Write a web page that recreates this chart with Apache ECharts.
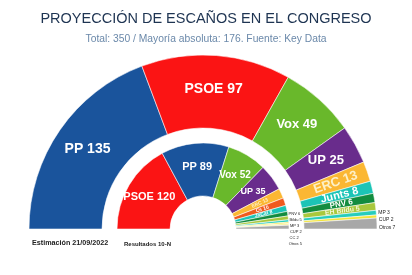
<!DOCTYPE html>
<html>
<head>
<meta charset="utf-8">
<script src="https://cdn.jsdelivr.net/npm/echarts@6/dist/echarts.min.js"></script>
<style>
  html, body { margin: 0; padding: 0; background: #fff; }
  #main { width: 412px; height: 275px; }
</style>
</head>
<body>
<div id="main"></div>
<script>
  // Estimación 21/09/2022 (anillo exterior)
  const outerNames = ['PP', 'PSOE', 'Vox', 'UP', 'ERC', 'Junts', 'PNV', 'EH Bildu', 'MP', 'CUP', 'Otros'];
  const outerSeats = [135, 97, 49, 25, 13, 8, 6, 5, 3, 2, 7];
  // Resultados 10-N (anillo interior)
  const innerNames = ['PSOE', 'PP', 'Vox', 'UP', 'ERC', 'Cs', 'JxCat', 'PNV', 'Bildu', 'MP', 'CUP', 'CC', 'Otros'];
  const innerSeats = [120, 89, 52, 35, 13, 10, 8, 6, 5, 3, 2, 2, 5];

  const colors = {
    'PP': '#1a549c', 'PSOE': '#fb1414', 'Vox': '#69b82b', 'UP': '#692c8c',
    'ERC': '#fbb733', 'Junts': '#1cc4b6', 'JxCat': '#1cc4b6', 'Cs': '#f05a1e',
    'PNV': '#138c3f', 'EH Bildu': '#a9c83d', 'Bildu': '#a9c83d', 'MP': '#27cdbd',
    'CUP': '#f3e43c', 'CC': '#f7ee8a', 'Otros': '#a8a8a8'
  };

  // estilo de etiqueta por partido (tamaño, rotación, posición)
  const outside = { position: 'outside', color: '#222', fontWeight: 'normal' };
  const outerLabel = {
    'PP': { fontSize: 14 }, 'PSOE': { fontSize: 14 }, 'Vox': { fontSize: 13 }, 'UP': { fontSize: 13 },
    'ERC': { fontSize: 13, lineHeight: 12, rotate: 'radial', color: '#fdf0c8' },
    'Junts': { fontSize: 11, lineHeight: 9, rotate: 'radial' },
    'PNV': { fontSize: 8, lineHeight: 7, rotate: 'radial' },
    'EH Bildu': { fontSize: 7, lineHeight: 6, rotate: 'radial', color: '#f4f7d8' },
    'MP': Object.assign({ fontSize: 5, lineHeight: 5.5 }, outside),
    'CUP': Object.assign({ fontSize: 5, lineHeight: 5.5 }, outside),
    'Otros': Object.assign({ fontSize: 5, lineHeight: 5.5 }, outside)
  };
  const innerLabel = {
    'PSOE': { fontSize: 11 }, 'PP': { fontSize: 11 }, 'Vox': { fontSize: 10 }, 'UP': { fontSize: 9 },
    'ERC': { fontSize: 5, lineHeight: 5, rotate: 'radial', color: '#fdf0c8' },
    'Cs': { fontSize: 5, lineHeight: 5, rotate: 'radial' },
    'JxCat': { fontSize: 5, lineHeight: 4, rotate: 'radial' },
    'PNV': Object.assign({ fontSize: 4, lineHeight: 2 }, outside),
    'Bildu': Object.assign({ fontSize: 4, lineHeight: 2 }, outside),
    'MP': Object.assign({ fontSize: 4, lineHeight: 2 }, outside),
    'CUP': Object.assign({ fontSize: 4, lineHeight: 2 }, outside),
    'CC': Object.assign({ fontSize: 4, lineHeight: 2 }, outside),
    'Otros': Object.assign({ fontSize: 4, lineHeight: 2 }, outside)
  };

  function buildData(names, seats, labels) {
    return names.map(function (n, i) {
      return {
        name: n,
        value: seats[i],
        itemStyle: { color: colors[n] },
        label: labels[n] || {}
      };
    });
  }

  const chart = echarts.init(document.getElementById('main'));
  const font = '"Liberation Sans", Arial, sans-serif';

  const option = {
    backgroundColor: '#ffffff',
    animation: false,
    title: [
      {
        text: 'PROYECCIÓN DE ESCAÑOS EN EL CONGRESO',
        left: 'center', top: 6,
        textStyle: { fontFamily: font, fontSize: 14.5, fontWeight: 'normal', color: '#1e3452' }
      },
      {
        text: 'Total: 350 / Mayoría absoluta: 176. Fuente: Key Data',
        left: 'center', top: 29,
        textStyle: { fontFamily: font, fontSize: 10.3, fontWeight: 'normal', color: '#6b89aa' }
      },
      {
        text: 'Estimación 21/09/2022',
        left: 27, top: 235,
        textStyle: { fontFamily: font, fontSize: 7.2, fontWeight: 'bold', color: '#222' }
      },
      {
        text: 'Resultados 10-N',
        left: 119, top: 236,
        textStyle: { fontFamily: font, fontSize: 6, fontWeight: 'bold', color: '#222' }
      }
    ],
    series: [
      {
        type: 'pie',
        center: [203, 229],
        radius: [101, 174],
        startAngle: 180,
        endAngle: 0,
        avoidLabelOverlap: true,
        labelLayout: { hideOverlap: false },
        itemStyle: { borderColor: 'rgba(255,255,255,0.55)', borderWidth: 1 },
        label: {
          position: 'inside', formatter: '{b} {c}',
          fontFamily: font, fontWeight: 'bold', color: '#fff'
        },
        labelLine: { show: false, length: 2, length2: 0 },
        emphasis: { disabled: true },
        data: buildData(outerNames, outerSeats, outerLabel)
      },
      {
        type: 'pie',
        center: [203, 229],
        radius: [33, 86],
        startAngle: 180,
        endAngle: 0,
        avoidLabelOverlap: true,
        labelLayout: { hideOverlap: false },
        itemStyle: { borderColor: 'rgba(255,255,255,0.55)', borderWidth: 1 },
        label: {
          position: 'inside', formatter: '{b} {c}',
          fontFamily: font, fontWeight: 'bold', color: '#fff'
        },
        labelLine: { show: false, length: 1, length2: 0 },
        emphasis: { disabled: true },
        data: buildData(innerNames, innerSeats, innerLabel)
      }
    ]
  };

  chart.setOption(option);
</script>
</body>
</html>
